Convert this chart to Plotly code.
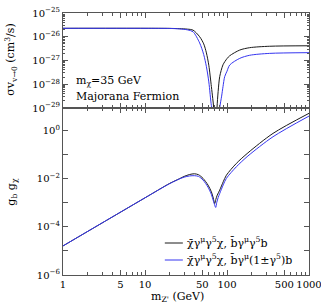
import numpy as np
import plotly.graph_objects as go
from plotly.subplots import make_subplots

# ---- data ----
mz_sv_axial = [1, 10, 20, 26.5, 33, 38.5, 46.4, 52, 56.1, 60, 64.5, 67, 68.8, 70, 72, 75.5, 78, 81.5, 89.4, 100, 107.9, 143, 189, 331, 1000]
log_sv_axial = [-25.644, -25.644, -25.648, -25.66, -25.68, -25.72, -26.0, -26.3, -26.68, -27.2, -28.1, -28.6, -29.0, -30.5, -30.5, -29.0, -28.3, -27.68, -27.18, -26.92, -26.80, -26.56, -26.46, -26.40, -26.38]

mz_sv_chiral = [1, 10, 20, 26.5, 33, 38.5, 46.4, 52, 56.1, 60, 64.5, 66.4, 68, 70, 75, 79, 81.5, 86, 89.4, 93.7, 100, 107.9, 143, 189, 331, 1000]
log_sv_chiral = [-25.644, -25.644, -25.65, -25.67, -25.71, -25.79, -26.26, -26.75, -27.26, -27.9, -28.9, -29.1, -30.0, -31.0, -31.0, -30.0, -29.0, -28.5, -28.1, -27.68, -27.45, -27.19, -26.91, -26.78, -26.70, -26.67]

mz_g_axial = [1, 10, 20, 26.5, 30, 35, 40, 45, 51, 58.7, 64.5, 68, 70.8, 73, 76, 81.5, 90, 98.3, 130, 180, 364, 1000]
log_g_axial = [-4.79, -2.79, -2.19, -1.99, -1.90, -1.82, -1.79, -1.83, -1.98, -2.26, -2.54, -2.80, -3.03, -2.86, -2.68, -2.47, -2.12, -1.85, -1.36, -0.92, -0.11, 0.725]

mz_g_chiral = [1, 10, 20, 26.5, 30, 35, 40, 45, 51, 58.7, 64.5, 68, 72.8, 75, 78, 81.5, 90, 98.3, 130, 180, 364, 1000]
log_g_chiral = [-4.79, -2.79, -2.20, -2.00, -1.93, -1.88, -1.87, -1.90, -2.05, -2.35, -2.65, -2.90, -3.19, -2.98, -2.78, -2.61, -2.25, -1.98, -1.50, -1.05, -0.25, 0.61]

label_axial = "χ̄γ<sup>μ</sup>γ<sup>5</sup>χ, b̄γ<sup>μ</sup>γ<sup>5</sup>b"
label_chiral = "χ̄γ<sup>μ</sup>γ<sup>5</sup>χ, b̄γ<sup>μ</sup>(1±γ<sup>5</sup>)b"

x_tick_vals = [1, 5, 10, 50, 100, 500, 1000]
x_tick_text = ["1", "5", "10", "50", "100", "500", "1000"]
sv_exps = [-25, -26, -27, -28, -29]
g_exps = [1, 0, -1, -2, -3, -4, -5, -6]

BLACK = "#1a1a1a"
BLUE = "#3535f0"
FONT = "DejaVu Serif"

fig = make_subplots(rows=2, cols=1, shared_xaxes=True, vertical_spacing=0,
                    row_heights=[0.3626, 0.6374])

def pw(vals):
    return [10 ** v for v in vals]

line_kw = dict(width=1, shape="spline", smoothing=0.8)
fig.add_trace(go.Scatter(x=mz_sv_axial, y=pw(log_sv_axial), mode="lines", name=label_axial,
                         line=dict(color=BLACK, **line_kw), showlegend=False), row=1, col=1)
fig.add_trace(go.Scatter(x=mz_sv_chiral, y=pw(log_sv_chiral), mode="lines", name=label_chiral,
                         line=dict(color=BLUE, **line_kw), showlegend=False), row=1, col=1)
fig.add_trace(go.Scatter(x=mz_g_axial, y=pw(log_g_axial), mode="lines", name=label_axial,
                         line=dict(color=BLACK, **line_kw), showlegend=False), row=2, col=1)
fig.add_trace(go.Scatter(x=mz_g_chiral, y=pw(log_g_chiral), mode="lines", name=label_chiral,
                         line=dict(color=BLUE, **line_kw), showlegend=False), row=2, col=1)

minor_x = [d * 10 ** e for e in range(0, 3) for d in (2, 3, 4, 6, 7, 8, 9)]
axis_common = dict(showline=True, linecolor="#555", linewidth=1.3, mirror="allticks",
                   ticks="inside", tickcolor="#555", showgrid=False, zeroline=False)

fig.update_xaxes(type="log", range=[0, 3], tickvals=x_tick_vals, ticktext=x_tick_text,
                 ticklen=5, tickangle=0, ticklabeloverflow="allow",
                 minor=dict(tickvals=minor_x, ticks="inside", ticklen=3, tickcolor="#555", showgrid=False),
                 tickfont=dict(family=FONT, size=10, color="black"), **axis_common)
fig.update_xaxes(showticklabels=False, row=1, col=1)

minor_sv = [d * 10.0 ** e for e in range(-29, -25) for d in range(2, 10)]
fig.update_yaxes(type="log", range=[-29, -25], tickvals=[10.0 ** e for e in sv_exps],
                 ticktext=["10<sup>−%d</sup>" % (-e) for e in sv_exps], ticklen=5,
                 minor=dict(tickvals=minor_sv, ticks="inside", ticklen=2, tickcolor="#555", showgrid=False),
                 tickfont=dict(family=FONT, size=10, color="black"), row=1, col=1, **axis_common)
fig.update_yaxes(type="log", range=[-6, 0.946], tickvals=[10.0 ** e for e in g_exps],
                 ticktext=[("10<sup>%s</sup>" % (str(e).replace("-", "−"))) if e % 2 == 0 else "" for e in g_exps],
                 ticklen=5, tickfont=dict(family=FONT, size=10, color="black"),
                 row=2, col=1, **axis_common)

def px(xp):
    return (xp - 63.3) / 245.7

def py(yp):
    return (275 - yp) / 262.0

annos = [
    dict(text="m<sub>χ</sub>=35 GeV", x=px(74), y=py(81), xanchor="left", yanchor="middle", font=dict(size=11)),
    dict(text="Majorana Fermion", x=px(74), y=py(96), xanchor="left", yanchor="middle", font=dict(size=11)),
    dict(text="σv<sub>v→0</sub> (cm<sup>3</sup>/s)", x=px(11), y=py(60), xanchor="center", yanchor="middle",
         textangle=-90, font=dict(size=11)),
    dict(text="g<sub>b</sub> g<sub>χ</sub>", x=px(12), y=py(192), xanchor="center", yanchor="middle",
         textangle=-90, font=dict(size=11)),
    dict(text="m<sub>Z'</sub> (GeV)", x=px(178), y=py(297), xanchor="center", yanchor="middle", font=dict(size=11)),
    dict(text=label_axial, x=px(185), y=py(242), xanchor="left", yanchor="middle", font=dict(size=11)),
    dict(text=label_chiral, x=px(185), y=py(259), xanchor="left", yanchor="middle", font=dict(size=11)),
]
for a in annos:
    a.update(xref="paper", yref="paper", showarrow=False)
    a["font"].update(family=FONT, color="black")

shapes = [
    dict(type="line", xref="paper", yref="paper", x0=px(165), x1=px(183), y0=py(243), y1=py(243),
         line=dict(color=BLACK, width=1)),
    dict(type="line", xref="paper", yref="paper", x0=px(165), x1=px(183), y0=py(260), y1=py(260),
         line=dict(color=BLUE, width=1)),
]
fig.update_layout(annotations=annos, shapes=shapes)

fig.update_layout(
    width=321, height=305, margin=dict(l=63, r=12, t=13, b=30, autoexpand=False),
    paper_bgcolor="white", plot_bgcolor="white",
    font=dict(family=FONT, size=10, color="black"),
    showlegend=False,
)

fig.write_html("out.html", config={"displayModeBar": False},
               post_script="document.body.style.margin='0';document.body.style.padding='0';document.body.style.overflow='hidden';")
